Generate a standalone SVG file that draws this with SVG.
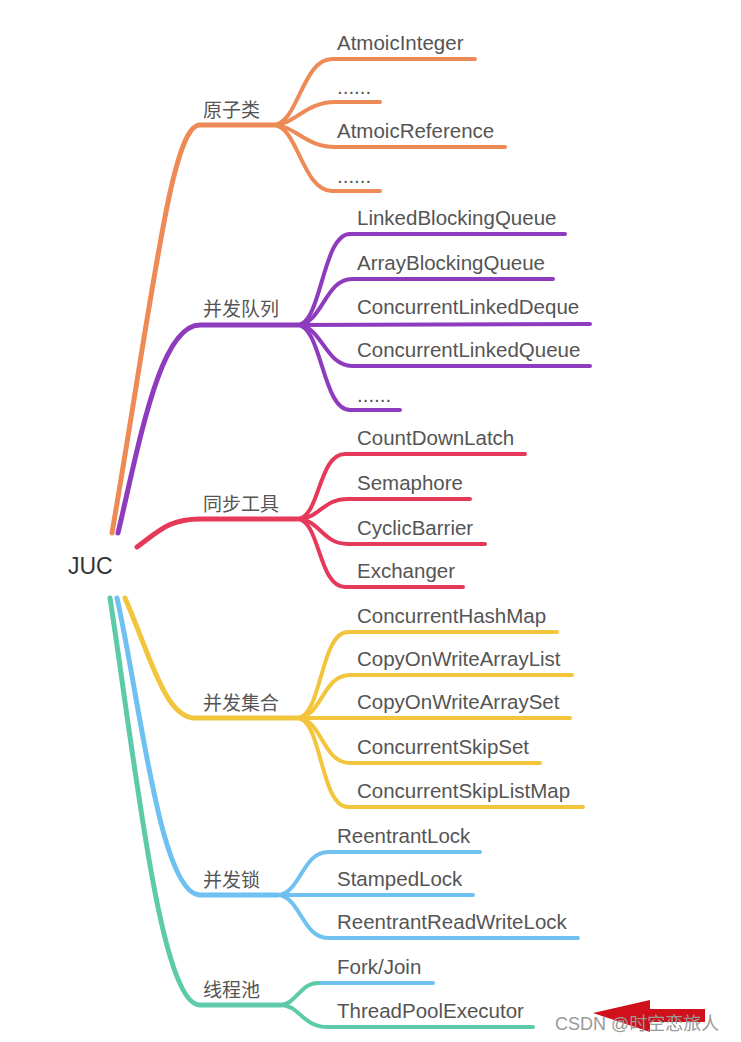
<svg xmlns="http://www.w3.org/2000/svg" width="741" height="1042" viewBox="0 0 741 1042">
<style>
.t{font-family:"Liberation Sans",Arial,sans-serif;font-size:20.5px;fill:#555}
.c{font-family:"Noto Sans CJK SC","Liberation Sans",sans-serif;font-size:19px;fill:#555}
.m{fill:none;stroke-width:5;stroke-linecap:round}
.k{fill:none;stroke-width:4;stroke-linecap:round}
.o{stroke:#EE8A55}.p{stroke:#8E3BBE}.r{stroke:#E6395A}.y{stroke:#F2C53D}.b{stroke:#6EC1F0}.g{stroke:#5DCBAA}
</style>
<rect width="741" height="1042" fill="#fff"/>
<g id="connectors">
<path class="m o" d="M112,533 C155,280 172,125 200,125 L273,125"/>
<path class="m p" d="M118,533 C140,440 160,325 200,325 L297,325"/>
<path class="m r" d="M137,547 C160,530 170,519 200,519 L297,519"/>
<path class="m y" d="M125,598 C150,655 165,718 195,718 L297,718"/>
<path class="m b" d="M117,598 C140,700 160,895 200,895 L277,895"/>
<path class="m g" d="M110,598 C135,760 160,1005 200,1005 L280,1005"/>
<path class="k o" d="M273,125 C298,125 302,59 332,59 L475,59"/>
<path class="k o" d="M273,125 C295,125 305,102 335,102 L380,102"/>
<path class="k o" d="M273,125 C295,125 305,147 335,147 L505,147"/>
<path class="k o" d="M273,125 C298,125 302,191 332,191 L380,191"/>
<path class="k p" d="M297,325 C322,325 322,234 350,234 L565,234"/>
<path class="k p" d="M297,325 C322,325 325,279 352,279 L553,279"/>
<path class="k p" d="M297,325 L590,324"/>
<path class="k p" d="M297,325 C322,325 325,366 352,366 L590,366"/>
<path class="k p" d="M297,325 C322,325 322,410 350,410 L400,410"/>
<path class="k r" d="M297,519 C320,519 318,454 345,454 L525,454"/>
<path class="k r" d="M297,519 C320,519 322,499 348,499 L470,499"/>
<path class="k r" d="M297,519 C320,519 322,544 348,544 L485,544"/>
<path class="k r" d="M297,519 C320,519 318,587 345,587 L463,587"/>
<path class="k y" d="M297,718 C322,718 320,632 348,632 L557,632"/>
<path class="k y" d="M297,718 C322,718 322,675 350,675 L572,675"/>
<path class="k y" d="M297,718 L570,718"/>
<path class="k y" d="M297,718 C322,718 322,763 350,763 L540,763"/>
<path class="k y" d="M297,718 C322,718 320,807 348,807 L583,807"/>
<path class="k b" d="M277,895 C300,895 302,852 328,852 L480,852"/>
<path class="k b" d="M277,895 L473,895"/>
<path class="k b" d="M277,895 C300,895 302,938 328,938 L578,938"/>
<path class="k g" d="M280,1005 C296,1005 300,983 318,983 L325,983"/>
<path class="k b" d="M322,983 L433,983"/>
<path class="k g" d="M280,1005 C300,1005 302,1027 328,1027 L533,1027"/>
</g>
<g id="root"><text x="68" y="574" class="t" style="font-size:23px;fill:#333">JUC</text></g>
<g id="n1"><text x="203" y="117" class="c">原子类</text></g>
<g id="n1a"><text x="337" y="50" class="t">AtmoicInteger</text></g>
<g id="n1b"><text x="337" y="94" class="t">......</text></g>
<g id="n1c"><text x="337" y="138" class="t">AtmoicReference</text></g>
<g id="n1d"><text x="337" y="183" class="t">......</text></g>
<g id="n2"><text x="203" y="316" class="c">并发队列</text></g>
<g id="n2a"><text x="357" y="225" class="t">LinkedBlockingQueue</text></g>
<g id="n2b"><text x="357" y="270" class="t">ArrayBlockingQueue</text></g>
<g id="n2c"><text x="357" y="314" class="t">ConcurrentLinkedDeque</text></g>
<g id="n2d"><text x="357" y="357" class="t">ConcurrentLinkedQueue</text></g>
<g id="n2e"><text x="357" y="402" class="t">......</text></g>
<g id="n3"><text x="203" y="511" class="c">同步工具</text></g>
<g id="n3a"><text x="357" y="445" class="t">CountDownLatch</text></g>
<g id="n3b"><text x="357" y="490" class="t">Semaphore</text></g>
<g id="n3c"><text x="357" y="535" class="t">CyclicBarrier</text></g>
<g id="n3d"><text x="357" y="578" class="t">Exchanger</text></g>
<g id="n4"><text x="203" y="710" class="c">并发集合</text></g>
<g id="n4a"><text x="357" y="623" class="t">ConcurrentHashMap</text></g>
<g id="n4b"><text x="357" y="666" class="t">CopyOnWriteArrayList</text></g>
<g id="n4c"><text x="357" y="709" class="t">CopyOnWriteArraySet</text></g>
<g id="n4d"><text x="357" y="754" class="t">ConcurrentSkipSet</text></g>
<g id="n4e"><text x="357" y="798" class="t">ConcurrentSkipListMap</text></g>
<g id="n5"><text x="203" y="887" class="c">并发锁</text></g>
<g id="n5a"><text x="337" y="843" class="t">ReentrantLock</text></g>
<g id="n5b"><text x="337" y="886" class="t">StampedLock</text></g>
<g id="n5c"><text x="337" y="929" class="t">ReentrantReadWriteLock</text></g>
<g id="n6"><text x="203" y="997" class="c">线程池</text></g>
<g id="n6a"><text x="337" y="974" class="t">Fork/Join</text></g>
<g id="n6b"><text x="337" y="1018" class="t">ThreadPoolExecutor</text></g>
<g id="arrow"><polygon points="593,1013 650,1000 650,1009 705,1009 705,1022 650,1022 650,1032" fill="#D0101A"/></g>
<g id="watermark"><text x="555" y="1030" style="font-family:'Liberation Sans','Noto Sans CJK SC',sans-serif;font-size:18px;fill:#999">CSDN @时空恋旅人</text></g>
</svg>
